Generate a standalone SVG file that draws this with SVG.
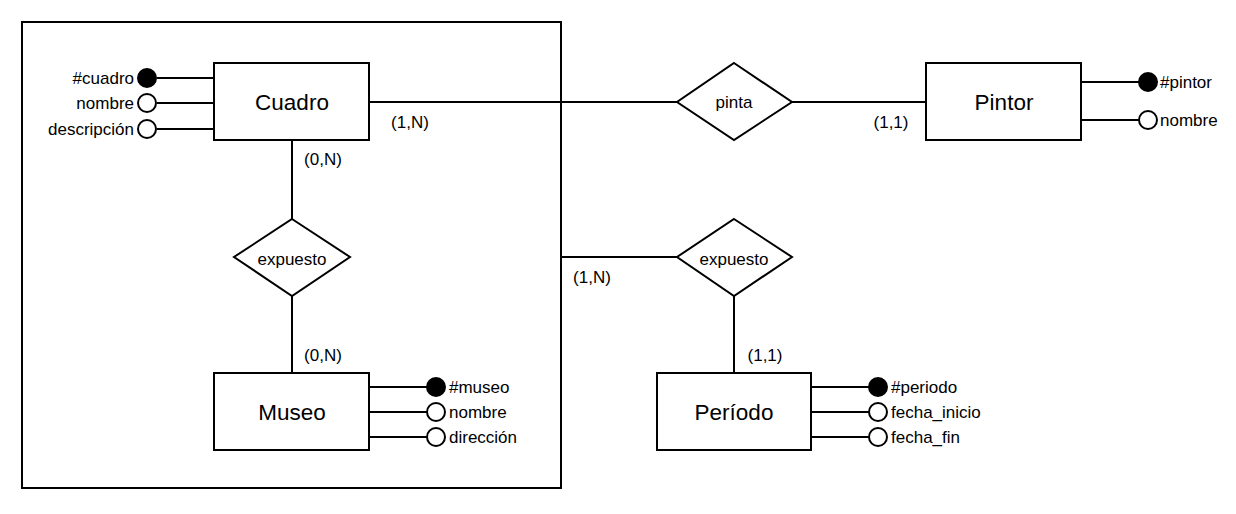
<svg xmlns="http://www.w3.org/2000/svg" width="1236" height="514" viewBox="0 0 1236 514">
<style>
.s{fill:#fff;stroke:#000;stroke-width:2}
.l{stroke:#000;stroke-width:2;fill:none}
.k{fill:#000;stroke:#000;stroke-width:2}
.o{fill:#fff;stroke:#000;stroke-width:2}
text{font-family:"Liberation Sans",Arial,sans-serif;fill:#000}
.e{font-size:22.5px;text-anchor:middle;dominant-baseline:central}
.r{font-size:17px;text-anchor:middle;dominant-baseline:central}
.a{font-size:17px;dominant-baseline:central}
.c{font-size:17px;text-anchor:middle;dominant-baseline:central}
</style>
<rect width="1236" height="514" fill="#fff"/>
<g id="frame"><rect x="22" y="22" width="539" height="466" fill="none" stroke="#000" stroke-width="2"/></g>
<g id="connectors">
<line class="l" x1="369" y1="102" x2="677" y2="102"/>
<line class="l" x1="792" y1="102" x2="926" y2="102"/>
<line class="l" x1="292" y1="140" x2="292" y2="219"/>
<line class="l" x1="292" y1="296" x2="292" y2="373"/>
<line class="l" x1="561" y1="257" x2="677" y2="257"/>
<line class="l" x1="734" y1="296" x2="734" y2="373"/>
<line class="l" x1="157" y1="78" x2="214" y2="78"/>
<line class="l" x1="157" y1="103" x2="214" y2="103"/>
<line class="l" x1="157" y1="129" x2="214" y2="129"/>
<line class="l" x1="1081" y1="82" x2="1139" y2="82"/>
<line class="l" x1="1081" y1="120" x2="1139" y2="120"/>
<line class="l" x1="369" y1="387" x2="427" y2="387"/>
<line class="l" x1="369" y1="412" x2="427" y2="412"/>
<line class="l" x1="369" y1="437" x2="427" y2="437"/>
<line class="l" x1="811" y1="387" x2="869" y2="387"/>
<line class="l" x1="811" y1="412" x2="869" y2="412"/>
<line class="l" x1="811" y1="437" x2="869" y2="437"/>
<text class="c" x="410" y="122">(1,N)</text>
<text class="c" x="891" y="122">(1,1)</text>
<text class="c" x="323" y="159">(0,N)</text>
<text class="c" x="323" y="355">(0,N)</text>
<text class="c" x="592" y="277">(1,N)</text>
<text class="c" x="765" y="355">(1,1)</text>
</g>
<g id="cuadro">
<rect class="s" x="214" y="63" width="155" height="77"/>
<text class="e" x="292" y="102">Cuadro</text>
<circle class="k" cx="147" cy="78" r="9"/>
<circle class="o" cx="147" cy="103" r="9"/>
<circle class="o" cx="147" cy="129" r="9"/>
<text class="a" x="134" y="78" text-anchor="end">#cuadro</text>
<text class="a" x="134" y="103" text-anchor="end">nombre</text>
<text class="a" x="134" y="129" text-anchor="end">descripción</text>
</g>
<g id="pintor">
<rect class="s" x="926" y="63" width="155" height="77"/>
<text class="e" x="1004" y="102">Pintor</text>
<circle class="k" cx="1148" cy="82" r="9"/>
<circle class="o" cx="1148" cy="120" r="9"/>
<text class="a" x="1160" y="82">#pintor</text>
<text class="a" x="1160" y="120">nombre</text>
</g>
<g id="pinta">
<polygon class="s" points="734,63 792,102 734,140 677,102"/>
<text class="r" x="734" y="102">pinta</text>
</g>
<g id="expuesto1">
<polygon class="s" points="292,219 350,257 292,296 234,257"/>
<text class="r" x="292" y="259">expuesto</text>
</g>
<g id="expuesto2">
<polygon class="s" points="734,219 792,257 734,296 677,257"/>
<text class="r" x="734" y="259">expuesto</text>
</g>
<g id="museo">
<rect class="s" x="214" y="373" width="155" height="77"/>
<text class="e" x="292" y="412">Museo</text>
<circle class="k" cx="436" cy="387" r="9"/>
<circle class="o" cx="436" cy="412" r="9"/>
<circle class="o" cx="436" cy="437" r="9"/>
<text class="a" x="449" y="387">#museo</text>
<text class="a" x="449" y="412">nombre</text>
<text class="a" x="449" y="437">dirección</text>
</g>
<g id="periodo">
<rect class="s" x="657" y="373" width="154" height="77"/>
<text class="e" x="734" y="412">Período</text>
<circle class="k" cx="878" cy="387" r="9"/>
<circle class="o" cx="878" cy="412" r="9"/>
<circle class="o" cx="878" cy="437" r="9"/>
<text class="a" x="891" y="387">#periodo</text>
<text class="a" x="891" y="412">fecha_inicio</text>
<text class="a" x="891" y="437">fecha_fin</text>
</g>
</svg>
